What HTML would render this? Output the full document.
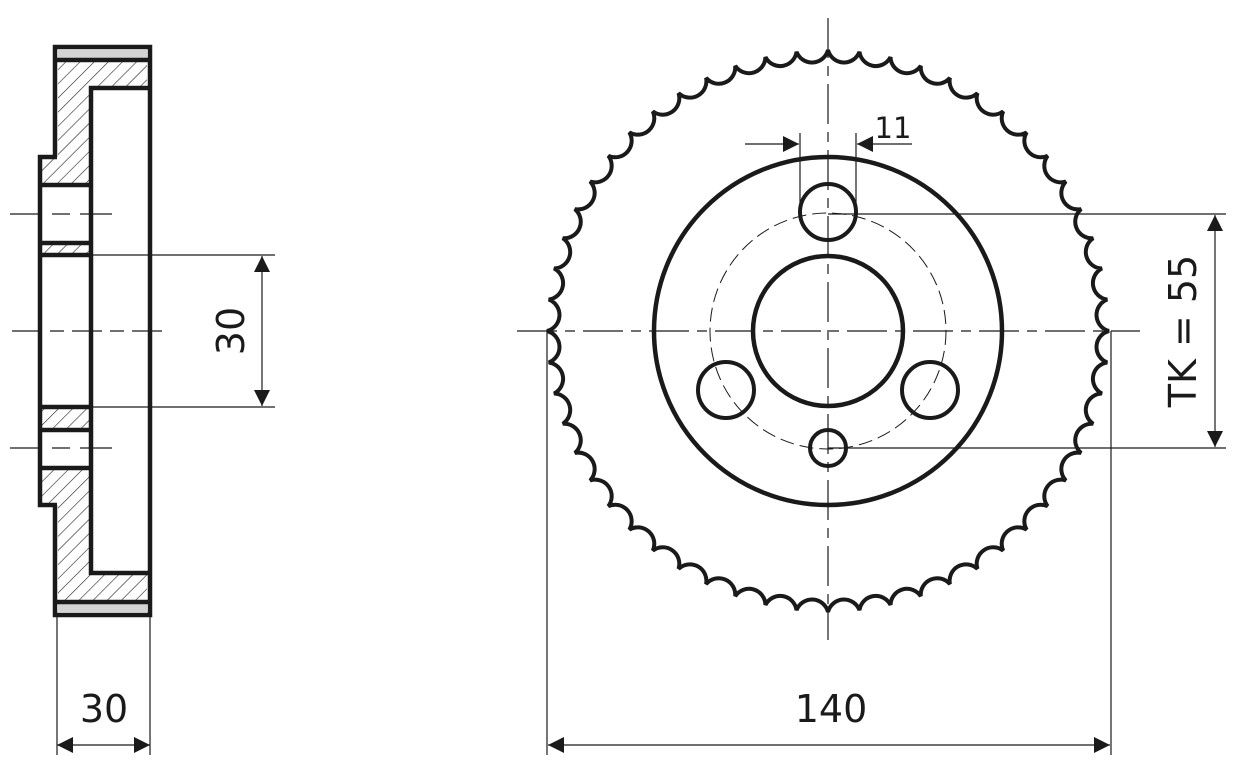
<!DOCTYPE html>
<html><head><meta charset="utf-8"><style>
html,body{margin:0;padding:0;background:#fff}
svg{display:block}
text{font-family:"DejaVu Sans","Liberation Sans",sans-serif;fill:#1a1a1a}
</style></head><body>
<svg id="s" width="1240" height="770" viewBox="0 0 1240 770" xmlns="http://www.w3.org/2000/svg">
<defs>
<pattern id="h" patternUnits="userSpaceOnUse" width="10" height="10" patternTransform="rotate(45)">
<line x1="0" y1="0" x2="0" y2="10" stroke="#222" stroke-width="1.2"/>
</pattern>
<marker id="a" viewBox="0 0 10 10" refX="10" refY="5" markerWidth="20" markerHeight="16" markerUnits="userSpaceOnUse" orient="auto-start-reverse">
<path d="M0,0 L10,5 L0,10 z" fill="#1a1a1a"/>
</marker>
</defs>
<g stroke="#1a1a1a" fill="none">
<!-- LEFT VIEW -->
<rect x="58" y="50" width="89" height="10" fill="#d3d3d3" stroke="none"/>
<rect x="58" y="602" width="89" height="10" fill="#d3d3d3" stroke="none"/>
<path d="M58,60 H147 V88 H92 V185 H40 V157 H58 Z" fill="url(#h)" stroke="none"/>
<path d="M40,243 H90 V255 H40 Z" fill="url(#h)" stroke="none"/>
<path d="M40,407 H90 V430 H40 Z" fill="url(#h)" stroke="none"/>
<path d="M40,468 H92 V573 H147 V602 H58 V505 H40 Z" fill="url(#h)" stroke="none"/>
<g stroke-width="4.5">
<path d="M55,157 V47 H150 V615 H55 V505"/>
<line x1="55" y1="60" x2="150" y2="60"/>
<line x1="55" y1="602" x2="150" y2="602"/>
<path d="M150,88 H91 V573 H150"/>
<path d="M57,157 H40 V505 H57"/>
<path d="M40,185 H91 M40,243 H91 M40,255 H91 M40,407 H91 M40,430 H91 M40,468 H91"/>
</g>
<g stroke-width="1.2">
<path d="M10,214 H118 M10,448 H118" stroke-dasharray="32,10,18,10"/>
<path d="M12,331 H162" stroke-dasharray="30,8,14,8"/>
<path d="M91,255 H275 M91,407 H275"/>
<line x1="262" y1="256" x2="262" y2="406" marker-start="url(#a)" marker-end="url(#a)"/>
<path d="M57,615 V755 M150,615 V755"/>
<line x1="57" y1="745" x2="150" y2="745" marker-start="url(#a)" marker-end="url(#a)"/>
</g>
<!-- RIGHT VIEW -->
<path id="teeth" stroke-width="4"/>
<circle cx="828" cy="331" r="174" stroke-width="4.5"/>
<circle cx="828" cy="331" r="75" stroke-width="4.5"/>
<circle cx="828" cy="331" r="118" stroke-width="1" stroke-dasharray="14,6"/>
<circle cx="828" cy="212" r="28" stroke-width="4"/>
<circle cx="726" cy="390" r="28" stroke-width="4"/>
<circle cx="930" cy="390" r="28" stroke-width="4"/>
<circle cx="828" cy="448" r="18" stroke-width="4"/>
<g stroke-width="1.2">
<path d="M828,18 V640" stroke-dasharray="40,8,10,8"/>
<path d="M517,331 H1140" stroke-dasharray="40,8,10,8"/>
<path d="M800,133 V212 M856,133 V212"/>
<line x1="745" y1="144" x2="799" y2="144" marker-end="url(#a)"/>
<line x1="912" y1="144" x2="857" y2="144" marker-end="url(#a)"/>
<path d="M828,214 H1226 M828,448 H1226"/>
<line x1="1215" y1="215" x2="1215" y2="447" marker-start="url(#a)" marker-end="url(#a)"/>
<path d="M547,331 V755 M1111,331 V755"/>
<line x1="548" y1="745" x2="1110" y2="745" marker-start="url(#a)" marker-end="url(#a)"/>
</g>
</g>
<text x="230" y="331" font-size="38" text-anchor="middle" transform="rotate(-90 230 331)" dy="14">30</text>
<text x="104" y="722" font-size="38" text-anchor="middle">30</text>
<text x="831" y="722" font-size="38" text-anchor="middle">140</text>
<text x="893" y="138" font-size="29" text-anchor="middle">11</text>
<text x="1182" y="331" font-size="38" text-anchor="middle" transform="rotate(-90 1182 331)" dy="14">TK = 55</text>
</svg>
<script>
(function(){
var cx=828,cy=331,R=281,n=56,d="",ar=16.5;
for(var i=0;i<=n;i++){
 var t=-Math.PI/2+i*2*Math.PI/n;
 var x=cx+R*Math.cos(t),y=cy+R*Math.sin(t);
 if(i==0)d+="M"+x.toFixed(2)+","+y.toFixed(2);
 else d+=" A"+ar+","+ar+" 0 0 0 "+x.toFixed(2)+","+y.toFixed(2);
}
document.getElementById("teeth").setAttribute("d",d+"Z");
})();
</script>
</body></html>
